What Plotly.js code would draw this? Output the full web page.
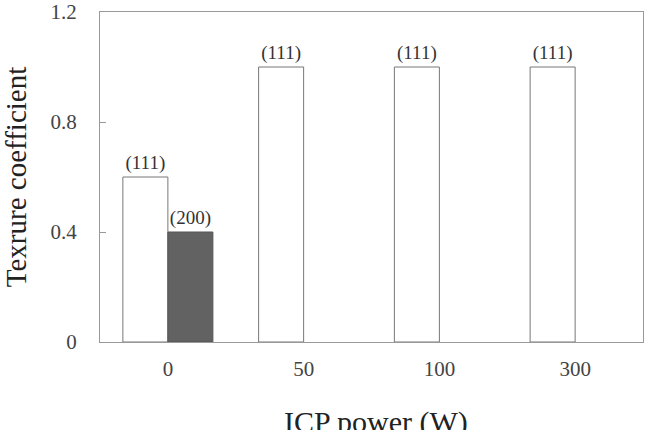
<!DOCTYPE html>
<html><head><meta charset="utf-8">
<script src="https://cdn.plot.ly/plotly-3.0.1.min.js"></script>
<style>body{margin:0;padding:0;background:#fff}#chart{width:656px;height:430px}</style>
</head><body><div id="chart"></div>
<script>
const categories = ["0", "50", "100", "300"];
const tc111 = [0.6, 1.0, 1.0, 1.0];
const tc200 = [0.4, 0, 0, 0];
const labels111 = ["(111)", "(111)", "(111)", "(111)"];
const labels200 = ["(200)", "", "", ""];
const yTicks = [0, 0.4, 0.8, 1.2];
const xTitle = "ICP power (W)";
const yTitle = "Texrure coefficient";

const serif = "Liberation Serif";
const traces = [
  {type: "bar", x: categories, y: tc111, text: labels111, textposition: "outside",
   cliponaxis: false, textfont: {family: serif, size: 19, color: "#333"},
   marker: {color: "#ffffff", line: {color: "#777", width: 1}}, name: "(111)"},
  {type: "bar", x: categories, y: tc200, text: labels200, textposition: "outside",
   cliponaxis: false, textfont: {family: serif, size: 19, color: "#333"},
   marker: {color: "#626262", line: {color: "#555", width: tc200.map(v => v > 0 ? 1 : 0)}}, name: "(200)"}
];
const layout = {
  width: 656, height: 430,
  margin: {l: 100, r: 13, t: 12, b: 88},
  paper_bgcolor: "#fff", plot_bgcolor: "#fff",
  showlegend: false, barmode: "group", bargap: 0.337, bargroupgap: 0,
  font: {family: serif, color: "#444"},
  xaxis: {type: "category", showline: true, mirror: true, linecolor: "#999", linewidth: 1,
    ticks: "", showgrid: false, zeroline: false,
    tickfont: {family: serif, size: 21, color: "#444"}, ticklabelstandoff: 8,
    automargin: false},
  yaxis: {range: [0, 1.2], tickvals: yTicks, ticktext: ["0", "0.4", "0.8", "1.2"],
    showline: true, mirror: true, linecolor: "#999", linewidth: 1,
    ticks: "inside", ticklen: 6, tickcolor: "#999", showgrid: false, zeroline: false,
    tickfont: {family: serif, size: 21, color: "#444"}, ticklabelstandoff: 18,
    title: {text: yTitle, font: {family: serif, size: 29, color: "#222"}, standoff: 16},
    automargin: false},
  annotations: [{text: xTitle, xref: "paper", yref: "paper", x: 0.5, y: 0,
    xanchor: "center", yanchor: "top", yshift: -61, xshift: 4, showarrow: false,
    font: {family: serif, size: 30, color: "#222"}}]
};
Plotly.newPlot("chart", traces, layout, {displayModeBar: false, staticPlot: true});
</script></body></html>
